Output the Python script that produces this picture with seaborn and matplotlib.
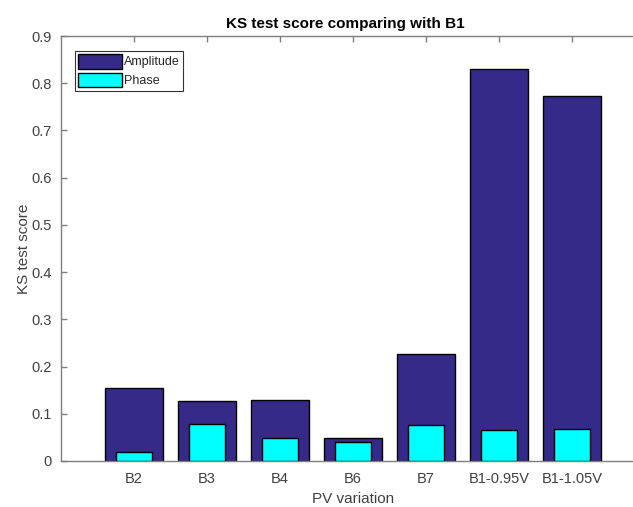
import matplotlib
matplotlib.use("Agg")
import matplotlib.pyplot as plt
from matplotlib.patches import Patch
import seaborn as sns
import pandas as pd

categories = ["B2", "B3", "B4", "B6", "B7", "B1-0.95V", "B1-1.05V"]
amplitude = [0.154, 0.128, 0.130, 0.048, 0.226, 0.830, 0.774]
phase = [0.019, 0.079, 0.048, 0.041, 0.077, 0.065, 0.067]
yticks = [0, 0.1, 0.2, 0.3, 0.4, 0.5, 0.6, 0.7, 0.8, 0.9]
ytick_labels = ["0", "0.1", "0.2", "0.3", "0.4", "0.5", "0.6", "0.7", "0.8", "0.9"]

sns.set_style("white")
plt.rcParams["font.family"] = ["Liberation Sans", "DejaVu Sans"]

W, H = 633, 507
fig = plt.figure(figsize=(W / 100, H / 100), dpi=100)
left, right, top, bottom = 61, 645, 36, 461
ax = fig.add_axes([left / W, 1 - bottom / H, (right - left) / W, (bottom - top) / H])

df = pd.DataFrame({"cat": categories, "amp": amplitude, "phase": phase})
amp_col = "#352A87"
ph_col = "#00FFFF"
sns.barplot(data=df, x="cat", y="amp", width=0.8, color=amp_col, saturation=1,
            edgecolor="black", linewidth=1.0, ax=ax, zorder=2)
sns.barplot(data=df, x="cat", y="phase", width=0.5, color=ph_col, saturation=1,
            edgecolor="black", linewidth=1.0, ax=ax, zorder=3)

ax.set_xlim(-1, 7)
ax.set_ylim(0, 0.9)
ax.set_yticks(yticks)
ax.set_yticklabels(ytick_labels)
ax.set_xticks(range(len(categories)))
ax.set_xticklabels(categories)

grey = "#7f7f7f"
for s in ["left", "top", "bottom"]:
    ax.spines[s].set_visible(True)
    ax.spines[s].set_color(grey)
    ax.spines[s].set_linewidth(1.0)
ax.spines["right"].set_visible(False)
ax.tick_params(axis="both", direction="in", length=4, width=1, color=grey,
               labelcolor="#404040", labelsize=10.5, top=True, left=True, bottom=True,
               pad=8)
ax.tick_params(axis="y", pad=7)
ax.set_axisbelow(False)

ax.set_xlabel("PV variation", fontsize=11, color="#404040", labelpad=4)
ax.set_ylabel("KS test score", fontsize=11, color="#404040", labelpad=0)
ax.set_title("KS test score comparing with B1", fontsize=11, fontweight="bold",
             color="black", x=(345 - left) / (right - left), pad=6)

handles = [Patch(facecolor=amp_col, edgecolor="black", label="Amplitude"),
           Patch(facecolor=ph_col, edgecolor="black", label="Phase")]
leg = ax.legend(handles=handles, loc="upper left",
                bbox_to_anchor=(14 / (right - left), 1 - 15 / (bottom - top)),
                fontsize=9, frameon=True, fancybox=False, edgecolor="black",
                handlelength=3.5, handleheight=1.4, handletextpad=0.2, borderpad=0.25,
                labelspacing=0.35, borderaxespad=0)
leg.get_frame().set_linewidth(0.8)

fig.savefig("out.png", dpi=100)
